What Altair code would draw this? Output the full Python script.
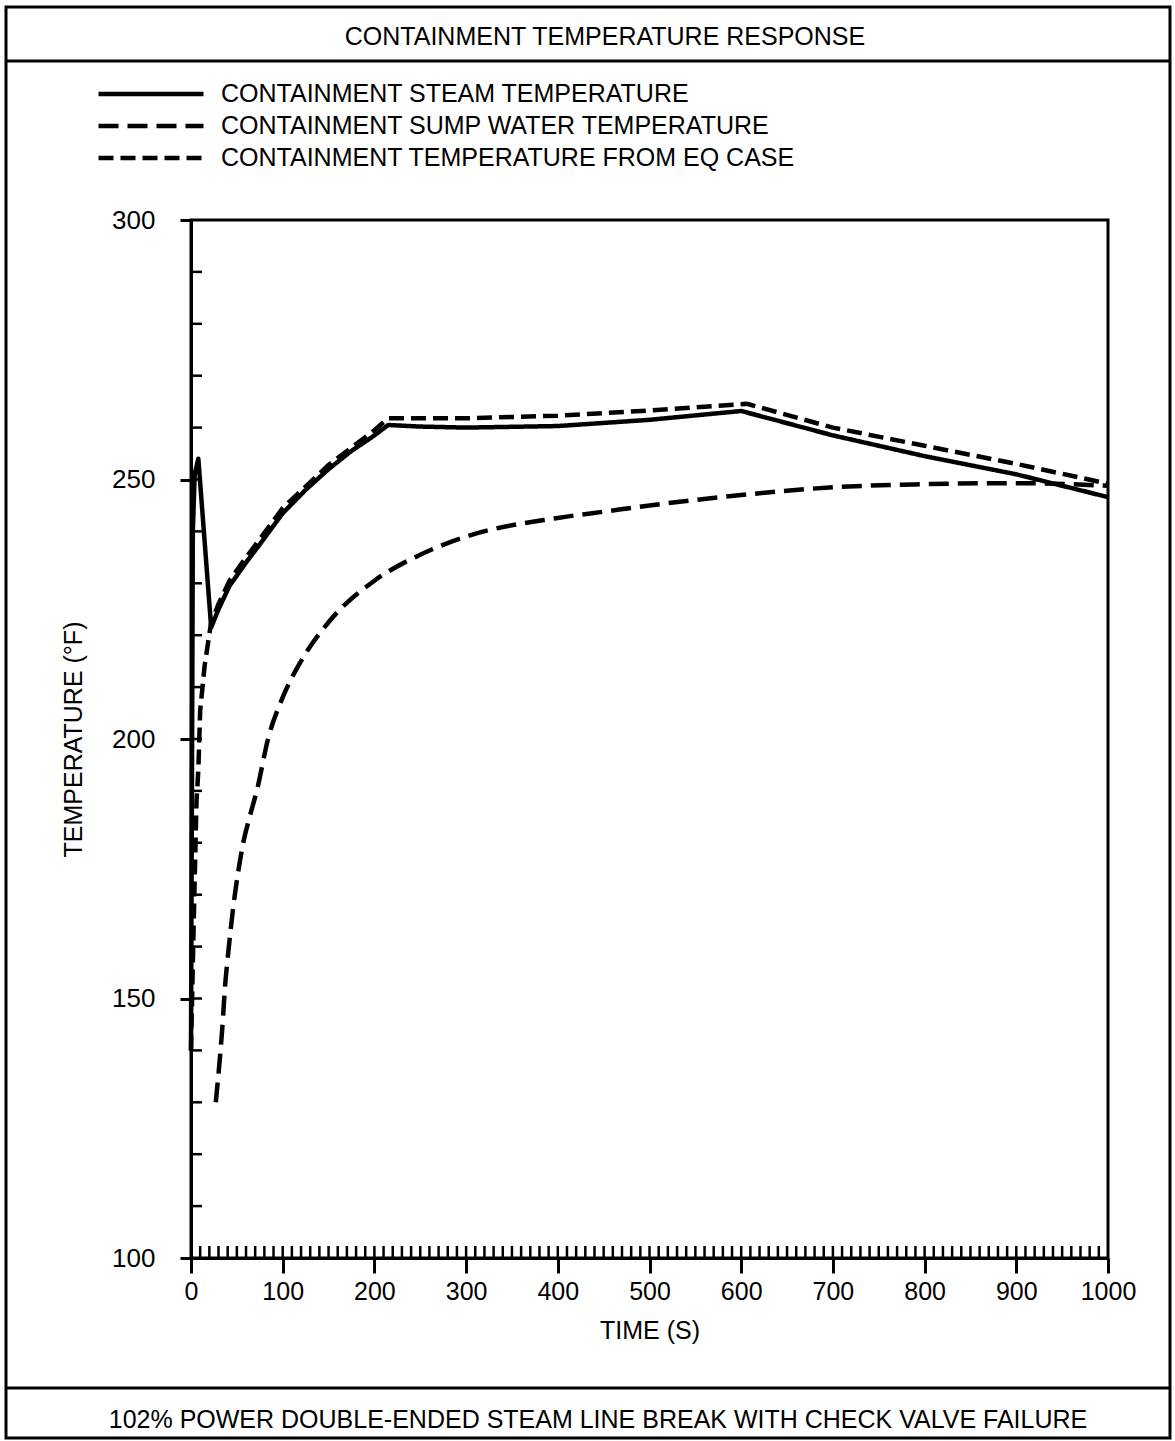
import altair as alt
import pandas as pd

# ---- series (time in s, temperature in deg F) ----
steam_t = [0, 2, 4, 8, 22, 30, 42, 60, 75, 100, 125, 150, 175, 200, 215, 250, 300, 400, 500, 600, 700, 800, 900, 1000]
steam_T = [140, 240, 251, 254, 221.5, 225, 229.5, 234, 237.5, 243.5, 248, 252, 255.5, 258.5, 260.5, 260.2, 260, 260.3, 261.5, 263.2, 258.5, 254.5, 251, 246.6]

sump_t = [27, 31, 34, 37, 41, 46, 52, 57, 64, 72, 84, 100, 120, 150, 200, 250, 300, 400, 450, 500, 600, 700, 800, 900, 1000]
sump_T = [130, 137.5, 144, 152, 159.5, 167.5, 175, 180, 185, 190.2, 200, 208, 215, 222.5, 230.5, 235.5, 239, 242.6, 243.8, 245, 247, 248.5, 249.1, 249.3, 248.8]

eq_t = [0, 3, 6, 8, 10, 15, 22, 30, 42, 60, 75, 100, 150, 200, 215, 300, 400, 500, 606, 700, 800, 900, 1000]
eq_T = [140, 165, 188, 194, 205.5, 214.3, 222.5, 226, 230.5, 235, 238.5, 244.5, 252.8, 259.5, 261.8, 261.8, 262.3, 263.3, 264.6, 260, 256.5, 253, 249.2]

series_names = [
    "CONTAINMENT STEAM TEMPERATURE",
    "CONTAINMENT SUMP WATER TEMPERATURE",
    "CONTAINMENT TEMPERATURE FROM EQ CASE",
]
series_dash = [[1, 0], [20, 9], [15, 7]]

x_major = list(range(0, 1001, 100))
y_major = [100, 150, 200, 250, 300]
x_minor = list(range(10, 1000, 10))
y_minor = list(range(110, 300, 10))

title_text = "CONTAINMENT TEMPERATURE RESPONSE"
footer_text = "102% POWER DOUBLE-ENDED STEAM LINE BREAK WITH CHECK VALVE FAILURE"
x_title = "TIME (S)"
y_title = "TEMPERATURE (°F)"

FONT = "Liberation Sans"
W, H = 917, 1038
PAD = {"left": 191, "top": 220, "right": 67, "bottom": 183}

frames = []
for name, ts, vs in zip(series_names, [steam_t, sump_t, eq_t], [steam_T, sump_T, eq_T]):
    frames.append(pd.DataFrame({"t": ts, "temp": vs, "series": name}))
curves = pd.concat(frames, ignore_index=True)

x_scale = alt.Scale(domain=[0, 1000], nice=False, zero=False)
y_scale = alt.Scale(domain=[100, 300], nice=False, zero=False)

# a long flat stroke as the legend key, so rows stay compact
KEY_PATH = "M-5,0H5"
KEY_SIZE = 441  # sqrt -> 21 px unit, path spans 10 half-units = 105 px

x_enc = alt.X(
    "t:Q",
    scale=x_scale,
    axis=alt.Axis(
        values=x_major, format="d", title=x_title, tickSize=15, tickWidth=3,
        labelFontSize=25, labelPadding=6, labelFlush=False, titleFontSize=25,
        titleFontWeight="normal", titlePadding=14, grid=False, domainWidth=3,
    ),
)
y_enc = alt.Y(
    "temp:Q",
    scale=y_scale,
    axis=alt.Axis(
        values=y_major, title=y_title, tickSize=11, tickWidth=3,
        labelFontSize=26, labelPadding=25, labelFlush=False, titleFontSize=25,
        titleFontWeight="normal", titlePadding=25, grid=False, domainWidth=3,
    ),
)
dash_enc = alt.StrokeDash(
    "series:N",
    scale=alt.Scale(domain=series_names, range=series_dash),
    sort=series_names,
    legend=alt.Legend(
        title=None, orient="none", legendX=-53, legendY=-139,
        symbolType=KEY_PATH, symbolSize=KEY_SIZE, symbolStrokeWidth=4.5,
        symbolStrokeColor="black", symbolFillColor="transparent",
        labelFontSize=25, labelOffset=57,
        rowPadding=6, padding=0, labelLimit=800,
    ),
)

base = alt.Chart(curves).encode(x=x_enc, y=y_enc, color=alt.value("black"), strokeDash=dash_enc)

# steam and EQ curves keep their sharp corners; the sump curve is smooth
sharp_lines = base.transform_filter(
    alt.FieldOneOfPredicate(field="series", oneOf=[series_names[0], series_names[2]])
).mark_line(strokeWidth=4.5, strokeCap="butt", strokeJoin="round")
smooth_line = base.transform_filter(
    alt.FieldEqualPredicate(field="series", equal=series_names[1])
).mark_line(strokeWidth=4.5, strokeCap="butt", strokeJoin="round", interpolate="monotone")

# inward minor ticks along the bottom and left axes
xt = (
    alt.Chart(pd.DataFrame({"t": x_minor}))
    .mark_rule(strokeWidth=2.5, color="black")
    .encode(x=alt.X("t:Q", scale=x_scale), y=alt.value(H), y2=alt.value(H - 12))
)
yt = (
    alt.Chart(pd.DataFrame({"temp": y_minor}))
    .mark_rule(strokeWidth=2.5, color="black")
    .encode(y=alt.Y("temp:Q", scale=y_scale), x=alt.value(0), x2=alt.value(11))
)

# page frame with title and footer boxes
frame = (
    alt.Chart(pd.DataFrame({"k": [0]}))
    .mark_rect(fill=None, stroke="black", strokeWidth=3)
    .encode(x=alt.value(-185), x2=alt.value(979), y=alt.value(-213), y2=alt.value(1218))
)
sep_top = (
    alt.Chart(pd.DataFrame({"k": [0]}))
    .mark_rule(stroke="black", strokeWidth=3)
    .encode(x=alt.value(-185), x2=alt.value(979), y=alt.value(-159))
)
sep_bot = (
    alt.Chart(pd.DataFrame({"k": [0]}))
    .mark_rule(stroke="black", strokeWidth=3)
    .encode(x=alt.value(-185), x2=alt.value(979), y=alt.value(1168))
)
title = (
    alt.Chart(pd.DataFrame({"label": [title_text]}))
    .mark_text(font=FONT, fontSize=25, align="center", baseline="middle", color="black")
    .encode(x=alt.value(414), y=alt.value(-183), text="label:N")
)
footer = (
    alt.Chart(pd.DataFrame({"label": [footer_text]}))
    .mark_text(font=FONT, fontSize=25, align="center", baseline="middle", color="black")
    .encode(x=alt.value(407), y=alt.value(1200), text="label:N")
)

chart = (
    alt.layer(frame, sep_top, sep_bot, title, footer, xt, yt, sharp_lines, smooth_line)
    .properties(
        width=W, height=H, padding=PAD,
        autosize=alt.AutoSizeParams(type="none"),
        background="white",
    )
    .configure_view(stroke="black", strokeWidth=3)
    .configure_axis(
        labelFont=FONT, titleFont=FONT, labelColor="black", titleColor="black",
        domainColor="black", tickColor="black",
    )
    .configure_legend(labelFont=FONT, labelColor="black")
)

chart.save("out.html", embed_options={"renderer": "svg", "actions": False})
